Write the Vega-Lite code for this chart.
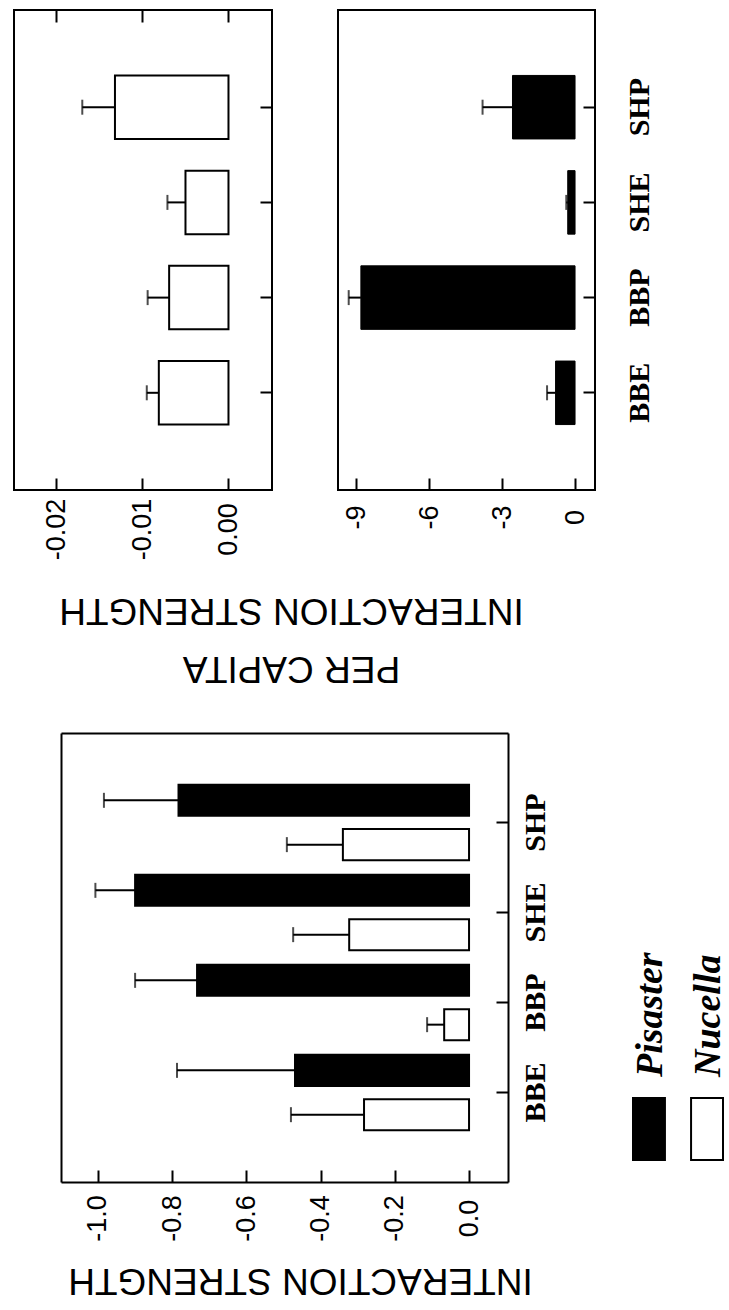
{
  "$schema": "https://vega.github.io/schema/vega-lite/v6.json",
  "background": "white",
  "padding": {"left": 13, "top": 8, "right": 0, "bottom": 10},
  "bounds": "flush",
  "spacing": 723,
  "config": {
    "view": {"stroke": "black", "strokeWidth": 2},
    "font": "Liberation Sans",
    "axis": {
      "domain": false, "grid": false,
      "tickColor": "black", "tickWidth": 2, "tickSize": -12,
      "labelColor": "black", "labelFont": "Liberation Sans", "labelFontSize": 27,
      "labelOverlap": false, "labelFlush": false,
      "titleColor": "black", "titleFont": "Liberation Sans", "titleFontSize": 37, "titleFontWeight": "normal",
      "domainColor": "black", "domainWidth": 2
    }
  },
  "datasets": {
    "perCapita": [
      {"site": "BBE", "species": "Nucella", "value": -0.0081, "err": -0.0095},
      {"site": "BBP", "species": "Nucella", "value": -0.0069, "err": -0.0094},
      {"site": "SHE", "species": "Nucella", "value": -0.0050, "err": -0.0071},
      {"site": "SHP", "species": "Nucella", "value": -0.0132, "err": -0.0170},
      {"site": "BBE", "species": "Pisaster", "value": -0.80, "err": -1.15},
      {"site": "BBP", "species": "Pisaster", "value": -8.80, "err": -9.30},
      {"site": "SHE", "species": "Pisaster", "value": -0.30, "err": -0.36},
      {"site": "SHP", "species": "Pisaster", "value": -2.57, "err": -3.80}
    ],
    "total": [
      {"site": "BBE", "species": "Pisaster", "value": -0.469, "err": -0.787},
      {"site": "BBE", "species": "Nucella", "value": -0.283, "err": -0.480},
      {"site": "BBP", "species": "Pisaster", "value": -0.733, "err": -0.900},
      {"site": "BBP", "species": "Nucella", "value": -0.067, "err": -0.113},
      {"site": "SHE", "species": "Pisaster", "value": -0.900, "err": -1.007},
      {"site": "SHE", "species": "Nucella", "value": -0.323, "err": -0.474},
      {"site": "SHP", "species": "Pisaster", "value": -0.783, "err": -0.984},
      {"site": "SHP", "species": "Nucella", "value": -0.340, "err": -0.491}
    ],
    "legendEntries": [
      {"species": "Pisaster"},
      {"species": "Nucella"}
    ]
  },
  "vconcat": [
    {
      "bounds": "flush",
      "spacing": 66,
      "hconcat": [
        {
          "width": 258, "height": 480,
          "data": {"name": "perCapita"},
          "transform": [{"filter": "datum.species === 'Nucella'"}],
          "resolve": {"axis": {"x": "independent"}},
          "layer": [
            {
              "mark": {"type": "bar", "fill": "white", "stroke": "black", "strokeWidth": 2},
              "encoding": {
                "x": {
                  "field": "value", "type": "quantitative",
                  "scale": {"domain": [-0.02494, 0.00506], "nice": false, "zero": false},
                  "axis": {
                    "values": [-0.02, -0.01, 0],
                    "labelExpr": "replace(format(datum.value, '.2f'), '\u2212', '-')",
                    "labelAngle": 270, "labelAlign": "center", "labelBaseline": "middle", "labelPadding": 51,
                    "title": ["PER CAPITA", "INTERACTION STRENGTH"],
                    "titleAngle": 180, "titleAlign": "center", "titleBaseline": "top",
                    "titleX": 277, "titleY": 195, "titleLineHeight": 58
                  }
                },
                "y": {
                  "field": "site", "type": "nominal", "sort": ["SHP", "SHE", "BBP", "BBE"],
                  "scale": {"paddingInner": 0.333, "paddingOuter": 0.6875},
                  "axis": {"orient": "right", "labels": false, "title": null}
                }
              }
            },
            {
              "mark": {"type": "rule", "stroke": "black", "strokeWidth": 2},
              "encoding": {
                "x": {
                  "field": "value", "type": "quantitative",
                  "scale": {"domain": [-0.02494, 0.00506], "nice": false, "zero": false},
                  "axis": {"orient": "top", "values": [-0.02, -0.01, 0], "labels": false, "title": null}
                },
                "x2": {"field": "err"},
                "y": {"field": "site", "type": "nominal", "sort": ["SHP", "SHE", "BBP", "BBE"]}
              }
            },
            {
              "mark": {"type": "tick", "color": "black", "thickness": 2, "size": 15},
              "encoding": {
                "x": {
                  "field": "err", "type": "quantitative",
                  "scale": {"domain": [-0.02494, 0.00506], "nice": false, "zero": false},
                  "axis": null
                },
                "y": {"field": "site", "type": "nominal", "sort": ["SHP", "SHE", "BBP", "BBE"]}
              }
            }
          ]
        },
        {
          "width": 257, "height": 480,
          "data": {"name": "perCapita"},
          "transform": [{"filter": "datum.species === 'Pisaster'"}],
          "layer": [
            {
              "mark": {"type": "bar", "fill": "black", "stroke": "black", "strokeWidth": 1},
              "encoding": {
                "x": {
                  "field": "value", "type": "quantitative",
                  "scale": {"domain": [-9.74, 0.82], "nice": false, "zero": false},
                  "axis": {
                    "values": [-9, -6, -3, 0],
                    "labelExpr": "replace(format(datum.value, 'd'), '\u2212', '-')",
                    "labelAngle": 270, "labelAlign": "center", "labelBaseline": "middle", "labelPadding": 39,
                    "title": null
                  }
                },
                "y": {
                  "field": "site", "type": "nominal", "sort": ["SHP", "SHE", "BBP", "BBE"],
                  "scale": {"paddingInner": 0.333, "paddingOuter": 0.6875},
                  "axis": {
                    "orient": "right", "title": null,
                    "labelAngle": 270, "labelAlign": "center", "labelBaseline": "top", "labelPadding": 41.5,
                    "labelFont": "Liberation Serif", "labelFontWeight": "bold", "labelFontSize": 30
                  }
                }
              }
            },
            {
              "mark": {"type": "rule", "stroke": "black", "strokeWidth": 2},
              "encoding": {
                "x": {
                  "field": "value", "type": "quantitative",
                  "scale": {"domain": [-9.74, 0.82], "nice": false, "zero": false}
                },
                "x2": {"field": "err"},
                "y": {"field": "site", "type": "nominal", "sort": ["SHP", "SHE", "BBP", "BBE"]}
              }
            },
            {
              "mark": {"type": "tick", "color": "black", "thickness": 2, "size": 15},
              "encoding": {
                "x": {
                  "field": "err", "type": "quantitative",
                  "scale": {"domain": [-9.74, 0.82], "nice": false, "zero": false}
                },
                "y": {"field": "site", "type": "nominal", "sort": ["SHP", "SHE", "BBP", "BBE"]}
              }
            }
          ]
        }
      ]
    },
    {
      "bounds": "flush",
      "spacing": 125,
      "hconcat": [
        {
          "width": 494, "height": 449,
          "data": {"name": "total"},
          "view": {"stroke": null},
          "resolve": {"axis": {"x": "independent", "y": "independent"}},
          "layer": [
            {
              "mark": {"type": "bar", "stroke": "black", "strokeWidth": 2},
              "encoding": {
                "x": {
                  "field": "value", "type": "quantitative",
                  "scale": {"domain": [-1.0997, 0.105], "range": [47, 494], "nice": false, "zero": false},
                  "axis": {
                    "domain": true,
                    "values": [-1, -0.8, -0.6, -0.4, -0.2, 0],
                    "labelExpr": "replace(format(datum.value, '.1f'), '\u2212', '-')",
                    "labelAngle": 270, "labelAlign": "center", "labelBaseline": "middle", "labelPadding": 48,
                    "title": "INTERACTION STRENGTH",
                    "titleAngle": 180, "titleAlign": "center", "titleBaseline": "top",
                    "titleX": 286, "titleY": 115
                  }
                },
                "y": {
                  "field": "site", "type": "nominal", "sort": ["SHP", "SHE", "BBP", "BBE"],
                  "scale": {"paddingInner": 0, "paddingOuter": 0.494},
                  "axis": {
                    "orient": "right", "title": null, "domain": true,
                    "labelAngle": 270, "labelAlign": "center", "labelBaseline": "top", "labelPadding": 24.5,
                    "labelFont": "Liberation Serif", "labelFontWeight": "bold", "labelFontSize": 30
                  }
                },
                "yOffset": {
                  "field": "species", "type": "nominal", "sort": ["Pisaster", "Nucella"],
                  "scale": {"paddingInner": 0.3, "paddingOuter": 0.166}
                },
                "fill": {
                  "field": "species", "type": "nominal",
                  "scale": {"domain": ["Pisaster", "Nucella"], "range": ["black", "white"]},
                  "legend": null
                }
              }
            },
            {
              "mark": {"type": "rule", "stroke": "black", "strokeWidth": 2},
              "encoding": {
                "x": {
                  "field": "value", "type": "quantitative",
                  "scale": {"domain": [-1.0997, 0.105], "range": [47, 494], "nice": false, "zero": false},
                  "axis": {"orient": "top", "domain": true, "ticks": false, "labels": false, "title": null}
                },
                "x2": {"field": "err"},
                "y": {
                  "field": "site", "type": "nominal", "sort": ["SHP", "SHE", "BBP", "BBE"],
                  "axis": {"orient": "left", "offset": -47, "domain": true, "ticks": false, "labels": false, "title": null}
                },
                "yOffset": {"field": "species", "type": "nominal", "sort": ["Pisaster", "Nucella"]}
              }
            },
            {
              "mark": {"type": "tick", "color": "black", "thickness": 2, "size": 15},
              "encoding": {
                "x": {
                  "field": "err", "type": "quantitative",
                  "scale": {"domain": [-1.0997, 0.105], "range": [47, 494], "nice": false, "zero": false},
                  "axis": null
                },
                "y": {"field": "site", "type": "nominal", "sort": ["SHP", "SHE", "BBP", "BBE"], "axis": null},
                "yOffset": {"field": "species", "type": "nominal", "sort": ["Pisaster", "Nucella"]}
              }
            }
          ]
        },
        {
          "width": 90, "height": 449,
          "data": {"name": "legendEntries"},
          "view": {"stroke": null},
          "layer": [
            {
              "mark": {"type": "rect", "stroke": "black", "strokeWidth": 2},
              "encoding": {
                "x": {
                  "field": "species", "type": "nominal", "sort": ["Pisaster", "Nucella"],
                  "scale": {"paddingInner": 0.45, "paddingOuter": 0}, "axis": null
                },
                "y": {
                  "datum": "entry", "type": "nominal",
                  "scale": {"paddingInner": 0.68, "paddingOuter": 1, "align": 0.943}, "axis": null
                },
                "fill": {
                  "field": "species", "type": "nominal",
                  "scale": {"domain": ["Pisaster", "Nucella"], "range": ["black", "white"]},
                  "legend": null
                }
              }
            },
            {
              "mark": {
                "type": "text", "angle": 270, "align": "left", "baseline": "alphabetic",
                "dx": 52, "dy": 13, "fill": "black",
                "font": "Liberation Serif", "fontSize": 38, "fontStyle": "italic", "fontWeight": "bold"
              },
              "encoding": {
                "x": {"field": "species", "type": "nominal", "sort": ["Pisaster", "Nucella"], "axis": null},
                "y": {"datum": "entry", "type": "nominal", "axis": null},
                "text": {"field": "species"}
              }
            }
          ]
        }
      ]
    }
  ]
}
